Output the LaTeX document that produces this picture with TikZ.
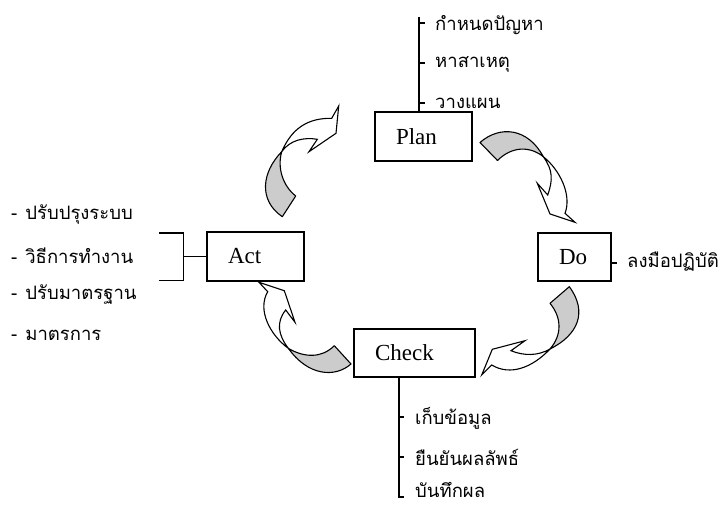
\documentclass[tikz,border=0pt]{standalone}
\usepackage{fontspec}
\setmainfont{Liberation Serif}
\newfontfamily\thaifont[Script=Thai]{Loma}
\tikzset{
  stage/.style={rectangle,draw=black,line width=1.3pt,font=\fontsize{23}{26}\selectfont,inner xsep=21pt,inner ysep=0pt,text width=#1,align=left},
  item/.style={anchor=west,inner sep=0pt,font=\thaifont\fontsize{18.5}{21}\selectfont},
  branch/.style={draw,line width=1.3pt},
  tail/.style={draw,line width=1.1pt,fill=black!20,line join=round},
  head/.style={draw,line width=1.1pt,fill=white,line join=miter}
}
\newcommand{\dashgap}{-\hspace{8pt}}
\begin{document}
\begin{tikzpicture}[x=1pt,y=-1pt]
  \useasboundingbox (0,0) rectangle (722,505);
  \node [stage=55pt,minimum height=49pt] (plan) at (423.5,136.5) {Plan};
  \node [stage=31pt,minimum height=48pt] (do) at (574.5,257) {Do};
  \node [stage=79pt,minimum height=48pt] (check) at (414.5,353) {Check};
  \node [stage=55pt,minimum height=49pt] (act) at (255.5,256.5) {Act};

  \node [item] (p1) at (435,25) {กำหนดปัญหา};
  \node [item] (p2) at (435,64) {หาสาเหตุ};
  \node [item] (p3) at (435,103) {วางแผน};
  \node [item] (d1) at (627,262) {ลงมือปฏิบัติ};
  \node [item] (c1) at (415,418) {เก็บข้อมูล};
  \node [item] (c2) at (415,457) {ยืนยันผลลัพธ์};
  \node [item] (c3) at (415,490) {บันทึกผล};
  \node [item] (a1) at (11,215) {\dashgap ปรับปรุงระบบ};
  \node [item] (a2) at (11,256) {\dashgap วิธีการทำงาน};
  \node [item] (a3) at (11,295) {\dashgap ปรับมาตรฐาน};
  \node [item] (a4) at (11,335) {\dashgap มาตรการ};

  % lines from the boxes
  \coordinate (pb) at (419,17);
  \draw [branch] (pb) -- (pb |- plan.north);
  \draw [branch] (419,23) -- ++(6,0);
  \draw [branch] (419,63) -- ++(6,0);
  \draw [branch] (419,103) -- ++(6,0);
  \draw [branch] (do.east) ++(0,6) -- ++(5,0);
  \coordinate (cb) at (399,497);
  \draw [branch] (cb |- check.south) -- (cb) -- ++(5,0);
  \draw [branch] (399,417) -- ++(5,0);
  \draw [branch] (399,457) -- ++(5,0);
  \coordinate (aj) at (183.5,256.5);
  \draw [branch] (act.west) -- (aj);
  \draw [branch] (159,233) -- (183.5,233) -- (183.5,280.5) -- (159,280.5);

  % act to plan
  \coordinate (x1) at (281.7,151.7);
  \path [tail] (282.3,216.7) .. controls (258,200) and (262,172) .. (x1)
     .. controls (277,168) and (283,186) .. (295.7,196) -- cycle;
  \path [head] (x1) .. controls (292,128) and (308,118) .. (331.7,118.3) -- (338.7,106) -- (336,133.3)
     -- (309,151.7) -- (317.3,139.3) .. controls (304,137) and (290,140) .. (x1) -- cycle;
  % plan to do
  \coordinate (x2) at (543.3,156.7);
  \path [tail] (480,142.5) .. controls (500,125) and (528,128) .. (x2)
     .. controls (530,146) and (512,146) .. (497.5,160.5) -- cycle;
  \path [head] (x2) .. controls (560,170) and (572,195) .. (565,213.3) -- (575,222.3) -- (550,214)
     -- (537.3,183.3) -- (547.7,195) .. controls (553,180) and (553,170) .. (x2) -- cycle;
  % do to check
  \coordinate (x3) at (550,349);
  \path [tail] (569.3,286.7) .. controls (588,312) and (578,335) .. (x3)
     .. controls (562,335) and (562,318) .. (550,303.3) -- cycle;
  \path [head] (x3) .. controls (538,356) and (524,356) .. (511,350.7) -- (525,340.7) -- (492.3,349.3)
     -- (481.7,375) -- (491.7,365) .. controls (510,376) and (532,368) .. (x3) -- cycle;
  % check to act
  \coordinate (x4) at (288.5,348.5);
  \path [tail] (351,364) .. controls (335,378) and (308,376) .. (x4)
     .. controls (305,358) and (322,358) .. (334.3,345.7) -- cycle;
  \path [head] (x4) .. controls (270,335) and (257,310) .. (267.7,291.7) -- (259,282.3) -- (284.3,290.7)
     -- (295,322.3) -- (285.7,310) .. controls (276,322) and (278,335) .. (x4) -- cycle;
\end{tikzpicture}
\end{document}
